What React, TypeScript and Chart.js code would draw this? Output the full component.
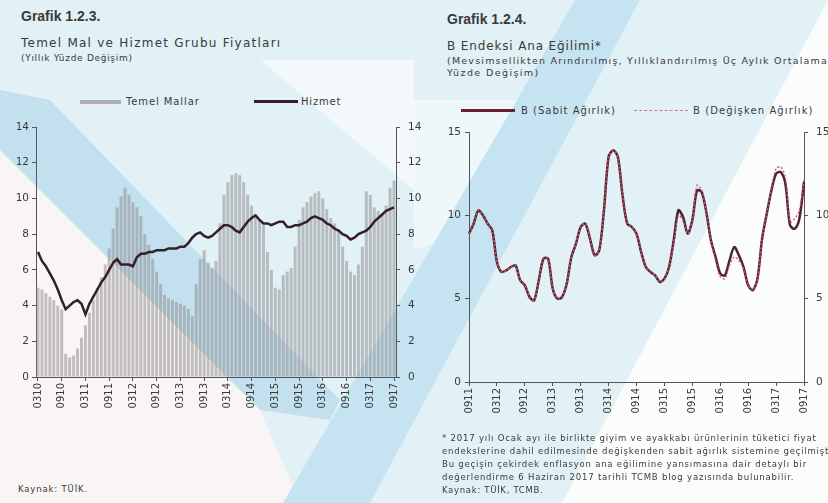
import React, { useEffect, useRef } from "react";
import { Chart, registerables } from "chart.js";
Chart.register(...registerables);

// ---------- Grafik 1.2.3 data (monthly, 03-2010 .. 09-2017) ----------
const leftStart = { year: 2010, month: 3 };
const leftTickLabels = ["0310", "0910", "0311", "0911", "0312", "0912", "0313", "0913", "0314", "0914", "0315", "0915", "0316", "0916", "0317", "0917"];
const temelMallar = [
  5.0, 4.9, 4.7, 4.5, 4.3, 4.0, 3.8, 1.3, 1.1, 1.2,
  1.6, 2.2, 2.9, 3.6, 4.3, 5.0, 5.6, 6.3, 7.2, 8.3,
  9.5, 10.1, 10.6, 10.2, 9.8, 9.5, 9.0, 8.0, 7.4, 6.6,
  5.9, 5.2, 4.6, 4.4, 4.3, 4.2, 4.1, 4.0, 3.8, 3.4,
  5.2, 6.6, 7.1, 6.4, 6.1, 6.5, 8.6, 10.2, 10.9, 11.3,
  11.4, 11.3, 10.9, 10.2, 9.6, 9.1, 8.8, 8.5, 7.0, 6.0,
  5.0, 4.9, 5.7, 5.9, 6.1, 7.3, 8.8, 9.5, 9.8, 10.1,
  10.3, 10.4, 10.0, 9.4, 8.9, 8.6, 8.2, 7.3, 6.5, 5.9,
  5.7, 6.3, 7.3, 10.4, 10.2, 9.5, 9.3, 9.1, 9.6, 10.6,
  11.0,
];
const hizmet = [
  7.0, 6.5, 6.2, 5.8, 5.4, 4.9, 4.3, 3.8, 4.0, 4.2,
  4.3, 4.1, 3.5, 4.1, 4.5, 4.9, 5.3, 5.6, 6.0, 6.4,
  6.6, 6.3, 6.3, 6.3, 6.2, 6.7, 6.9, 6.9, 7.0, 7.0,
  7.1, 7.1, 7.1, 7.2, 7.2, 7.2, 7.3, 7.3, 7.5, 7.8,
  8.0, 8.1, 7.9, 7.8, 7.9, 8.1, 8.3, 8.5, 8.5, 8.4,
  8.2, 8.1, 8.4, 8.7, 8.9, 9.05, 8.8, 8.6, 8.6, 8.5,
  8.6, 8.7, 8.7, 8.4, 8.4, 8.5, 8.5, 8.6, 8.7, 8.9,
  9.0, 8.9, 8.8, 8.6, 8.5, 8.3, 8.2, 8.0, 7.9, 7.7,
  7.8, 8.0, 8.1, 8.2, 8.4, 8.7, 8.9, 9.1, 9.3, 9.4,
  9.5,
];

// ---------- Grafik 1.2.4 data (monthly, 09-2011 .. 09-2017) ----------
const rightStart = { year: 2011, month: 9 };
const rightTickLabels = ["0911", "0312", "0912", "0313", "0913", "0314", "0914", "0315", "0915", "0316", "0916", "0317", "0917"];
const bSabit = [
  8.9, 9.5, 10.3, 10.0, 9.5, 9.1, 7.2, 6.6, 6.7, 6.9,
  7.0, 6.1, 5.8, 5.1, 4.9, 6.1, 7.4, 7.4, 5.6, 5.0,
  5.1, 5.9, 7.5, 8.3, 9.3, 9.5, 8.6, 7.6, 7.9, 10.3,
  13.5, 13.9, 13.5, 11.2, 9.5, 9.3, 8.9, 7.8, 6.9, 6.6,
  6.4, 6.0, 6.2, 6.9, 8.5, 10.3, 9.9, 8.9, 9.7, 11.5,
  11.4, 10.2, 8.5, 7.5, 6.5, 6.4, 7.3, 8.1, 7.6, 6.9,
  5.8, 5.5, 6.2, 8.6, 10.1, 11.5, 12.5, 12.6, 11.9, 9.4,
  9.2, 9.8, 12.0,
];
const bDegisken = [
  8.9, 9.5, 10.3, 10.0, 9.5, 9.1, 7.2, 6.6, 6.7, 6.9,
  7.0, 6.1, 5.8, 5.1, 4.9, 6.1, 7.4, 7.4, 5.6, 5.0,
  5.1, 5.9, 7.5, 8.3, 9.3, 9.5, 8.6, 7.6, 7.9, 10.3,
  13.5, 13.9, 13.5, 11.2, 9.5, 9.3, 8.9, 7.8, 6.9, 6.6,
  6.4, 6.0, 6.2, 6.9, 8.3, 10.0, 9.7, 8.9, 9.7, 11.8,
  11.5, 10.2, 8.5, 7.3, 6.3, 6.2, 7.0, 7.5, 7.3, 6.8,
  5.8, 5.5, 6.2, 8.6, 10.1, 11.6, 12.8, 12.9, 12.3, 9.6,
  9.8, 10.3, 12.1,
];

const FONT = "'DejaVu Sans', 'Liberation Sans', sans-serif";
const TEXT = "#3a3a3a";

function monthCodes(start: { year: number; month: number }, n: number): string[] {
  const out: string[] = [];
  let y = start.year;
  let m = start.month;
  for (let i = 0; i < n; i++) {
    out.push(String(m).padStart(2, "0") + String(y % 100).padStart(2, "0"));
    m++;
    if (m > 12) { m = 1; y++; }
  }
  return out;
}

function yAxis(position: "left" | "right", max: number, step: number, width: number, pad: number) {
  return {
    position,
    min: 0,
    max,
    ticks: { stepSize: step, color: TEXT, font: { family: FONT, size: 10.5 }, padding: pad },
    grid: { display: true, drawOnChartArea: false, drawTicks: true, tickLength: 4, color: "#555" },
    border: { display: true, color: "#555", width: 1 },
    afterFit: (s: any) => { s.width = width; },
  };
}

function xAxis(ticks: string[], offset: boolean, height: number) {
  return {
    offset,
    ticks: {
      autoSkip: false,
      maxRotation: 90,
      minRotation: 90,
      color: TEXT,
      font: { family: FONT, size: 10 },
      padding: 2,
      callback: function (this: any, v: any) {
        const l = this.getLabelForValue(v);
        return ticks.includes(l) ? l : null;
      },
    },
    grid: { display: true, drawOnChartArea: false, drawTicks: true, tickLength: 4, color: "#555", offset: false },
    border: { display: true, color: "#555", width: 1 },
    afterFit: (s: any) => { s.height = height; },
  };
}

function LeftChart() {
  const ref = useRef<HTMLCanvasElement | null>(null);
  useEffect(() => {
    if (!ref.current) return;
    const labels = monthCodes(leftStart, temelMallar.length);
    const chart = new Chart(ref.current, {
      data: {
        labels,
        datasets: [
          {
            type: "line",
            label: "Hizmet",
            data: hizmet,
            borderColor: "#35202a",
            borderWidth: 2.5,
            pointRadius: 0,
            tension: 0,
            yAxisID: "y",
            order: 0,
          } as any,
          {
            type: "bar",
            label: "Temel Mallar",
            data: temelMallar,
            backgroundColor: "rgba(140,135,135,0.5)",
            borderWidth: 0,
            categoryPercentage: 1,
            barPercentage: 0.75,
            yAxisID: "y",
            order: 1,
          } as any,
        ],
      },
      options: {
        animation: false,
        responsive: false,
        maintainAspectRatio: false,
        layout: { padding: { top: 17, left: 0, right: 0, bottom: 0 } },
        plugins: { legend: { display: false }, tooltip: { enabled: false } },
        scales: {
          x: xAxis(leftTickLabels, true, 38) as any,
          y: yAxis("left", 14, 2, 36, 3) as any,
          y2: yAxis("right", 14, 2, 34, 8) as any,
        },
      },
    });
    return () => chart.destroy();
  }, []);
  return <canvas ref={ref} width={430} height={305} style={{ position: "absolute", left: 0, top: 110, width: 430, height: 305 }} />;
}

function RightChart() {
  const ref = useRef<HTMLCanvasElement | null>(null);
  useEffect(() => {
    if (!ref.current) return;
    const labels = monthCodes(rightStart, bSabit.length);
    const chart = new Chart(ref.current, {
      type: "line",
      data: {
        labels,
        datasets: [
          {
            label: "B (Sabit Ağırlık)",
            data: bSabit,
            borderColor: "#4a2530",
            borderWidth: 2.5,
            pointRadius: 0,
            tension: 0.3,
            order: 1,
          },
          {
            label: "B (Değişken Ağırlık)",
            data: bDegisken,
            borderColor: "#e0506e",
            borderWidth: 1.4,
            borderDash: [2, 2],
            pointRadius: 0,
            tension: 0.3,
            order: 0,
          },
        ],
      },
      options: {
        animation: false,
        responsive: false,
        maintainAspectRatio: false,
        layout: { padding: { top: 17, left: 0, right: 0, bottom: 0 } },
        plugins: { legend: { display: false }, tooltip: { enabled: false } },
        scales: {
          x: xAxis(rightTickLabels, false, 33) as any,
          y: yAxis("left", 15, 5, 55, 4) as any,
          y2: yAxis("right", 15, 5, 24, 8) as any,
        },
      },
    });
    return () => chart.destroy();
  }, []);
  return <canvas ref={ref} width={414} height={300} style={{ position: "absolute", left: 414, top: 115, width: 414, height: 300 }} />;
}

function Txt(props: { x: number; y: number; size: number; ls?: number; bold?: boolean; children: React.ReactNode; color?: string }) {
  return (
    <div
      style={{
        position: "absolute",
        left: props.x,
        top: props.y - props.size * 0.6,
        fontFamily: props.bold ? "'Liberation Sans', sans-serif" : FONT,
        fontWeight: props.bold ? 700 : 400,
        fontSize: props.size,
        letterSpacing: props.ls ? `${props.ls}px` : undefined,
        lineHeight: `${props.size * 1.2}px`,
        color: props.color || TEXT,
        whiteSpace: "nowrap",
      }}
    >
      {props.children}
    </div>
  );
}

function Poly(props: { pts: string; color: string }) {
  return <div style={{ position: "absolute", left: 0, top: 0, width: 828, height: 503, background: props.color, clipPath: `polygon(${props.pts})` }} />;
}

export default function App() {
  return (
    <div style={{ position: "absolute", left: 0, top: 0, width: 828, height: 503, overflow: "hidden", background: "#e1f1f6" }}>
      {/* scanned-page background bands */}
      <Poly pts="0px 150px, 260px 410px, 300px 503px, 0px 503px" color="#f8f5f4" />
      <Poly pts="0px 90px, 50px 100px, 340px 400px, 330px 420px, 260px 410px, 0px 150px" color="#c3e0ef" />
      <Poly pts="260px 60px, 414px 60px, 414px 190px" color="#f3f9fb" />
      <Poly pts="414px 100px, 520px 100px, 450px 240px, 414px 250px" color="#eef7fa" />
      <Poly pts="575px 0px, 640px 0px, 370px 503px, 283px 503px" color="#c6e3f1" />
      <Poly pts="828px 0px, 828px 503px, 562px 503px" color="#fbfdfd" />

      <Txt x={21} y={16} size={14} bold>Grafik 1.2.3.</Txt>
      <Txt x={21} y={43} size={12} ls={1.25}>Temel Mal ve Hizmet Grubu Fiyatları</Txt>
      <Txt x={21} y={58} size={9} ls={0.7}>(Yıllık Yüzde Değişim)</Txt>

      <div style={{ position: "absolute", left: 80, top: 100, width: 41, height: 4, background: "#b0b0b0" }} />
      <Txt x={126} y={102} size={10} ls={0.9}>Temel Mallar</Txt>
      <div style={{ position: "absolute", left: 254, top: 100, width: 44, height: 2.5, background: "#35202a" }} />
      <Txt x={301} y={102} size={10} ls={0.8}>Hizmet</Txt>

      <Txt x={447} y={19} size={14} bold>Grafik 1.2.4.</Txt>
      <Txt x={447} y={46} size={12} ls={0.86}>B Endeksi Ana Eğilimi*</Txt>
      <Txt x={447} y={61} size={9.5} ls={1.2}>(Mevsimsellikten Arındırılmış, Yıllıklandırılmış Üç Aylık Ortalama</Txt>
      <Txt x={447} y={73} size={9.5} ls={1.4}>Yüzde Değişim)</Txt>

      <div style={{ position: "absolute", left: 461, top: 109, width: 54, height: 2.5, background: "#6b1f33" }} />
      <Txt x={521} y={111} size={10} ls={1.0}>B (Sabit Ağırlık)</Txt>
      <div style={{ position: "absolute", left: 634, top: 110, width: 54, height: 0, borderTop: "1.5px dashed #e07088" }} />
      <Txt x={693} y={111} size={10} ls={1.1}>B (Değişken Ağırlık)</Txt>

      <LeftChart />
      <RightChart />

      <Txt x={442} y={438} size={8.5} ls={0.8}>* 2017 yılı Ocak ayı ile birlikte giyim ve ayakkabı ürünlerinin tüketici fiyat</Txt>
      <Txt x={442} y={451} size={8.5} ls={0.8}>endekslerine dahil edilmesinde değişkenden sabit ağırlık sistemine geçilmiştir.</Txt>
      <Txt x={442} y={464} size={8.5} ls={0.8}>Bu geçişin çekirdek enflasyon ana eğilimine yansımasına dair detaylı bir</Txt>
      <Txt x={442} y={477} size={8.5} ls={0.8}>değerlendirme 6 Haziran 2017 tarihli TCMB blog yazısında bulunabilir.</Txt>
      <Txt x={442} y={490} size={8.5} ls={0.7}>Kaynak: TÜİK, TCMB.</Txt>

      <Txt x={18} y={489} size={8.5} ls={0.85}>Kaynak: TÜİK.</Txt>
    </div>
  );
}
